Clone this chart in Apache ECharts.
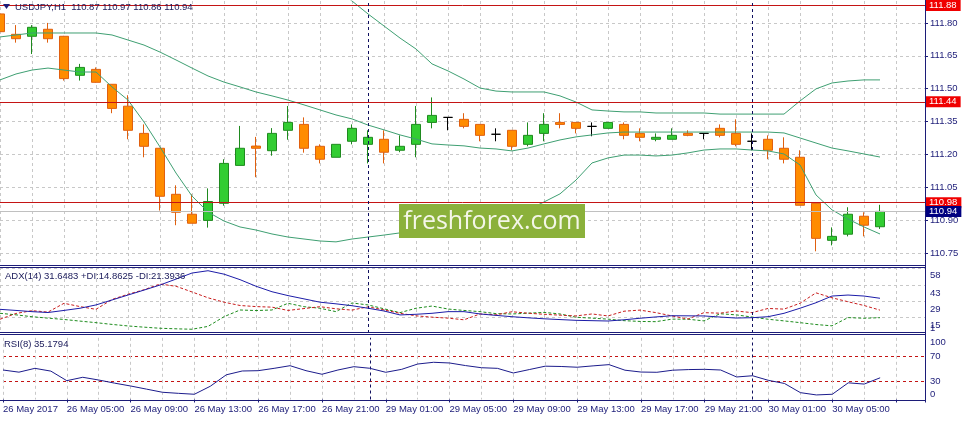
<!DOCTYPE html>
<html><head><meta charset="utf-8">
<script src="https://cdn.jsdelivr.net/npm/echarts@6.0.0/dist/echarts.min.js"></script>
<style>html,body{margin:0;padding:0;background:#fff;}#c{width:967px;height:421px;}</style>
</head><body><div id="c"></div>
<script>
// ---------------- data ----------------
const headerMain = 'USDJPY,H1  110.87 110.97 110.86 110.94';
const headerAdx = 'ADX(14) 31.6483 +DI:14.8625 -DI:21.3936';
const headerRsi = 'RSI(8) 35.1794';
const watermark = 'freshforex.com';

const timeLabels = ['26 May 2017','26 May 05:00','26 May 09:00','26 May 13:00','26 May 17:00','26 May 21:00',
  '29 May 01:00','29 May 05:00','29 May 09:00','29 May 13:00','29 May 17:00','29 May 21:00','30 May 01:00','30 May 05:00'];

const opens  = [111.841,111.748,111.739,111.771,111.739,111.561,111.588,111.520,111.420,111.296,
                111.228,111.018,110.927,110.899,110.977,111.150,111.238,111.217,111.310,111.337,
                111.237,111.187,111.260,111.246,111.269,111.219,111.246,111.346,111.369,111.360,
                111.337,111.292,111.310,111.246,111.296,111.346,111.346,111.328,111.319,111.337,
                111.296,111.269,111.269,111.296,111.296,111.319,111.296,111.260,111.269,111.228,
                111.187,110.977,110.808,110.836,110.918,110.870];
const highs  = [111.850,111.790,111.790,111.800,111.741,111.613,111.597,111.520,111.470,111.337,
                111.230,111.059,111.018,111.045,111.178,111.330,111.280,111.320,111.421,111.369,
                111.246,111.246,111.337,111.310,111.310,111.287,111.421,111.460,111.369,111.388,
                111.337,111.319,111.310,111.346,111.388,111.388,111.346,111.346,111.346,111.346,
                111.319,111.296,111.319,111.310,111.296,111.337,111.360,111.296,111.287,111.278,
                111.219,110.977,110.867,110.959,110.936,110.970];
const lows   = [111.750,111.710,111.658,111.710,111.537,111.537,111.527,111.388,111.269,111.187,
                110.944,110.877,110.886,110.866,110.966,111.150,111.096,111.194,111.267,111.208,
                111.159,111.187,111.246,111.159,111.159,111.210,111.187,111.319,111.310,111.319,
                111.260,111.260,111.219,111.237,111.260,111.319,111.296,111.283,111.319,111.269,
                111.260,111.260,111.269,111.283,111.269,111.278,111.237,111.219,111.178,111.159,
                110.968,110.758,110.785,110.826,110.826,110.860];
const closes = [111.760,111.728,111.780,111.728,111.546,111.597,111.529,111.410,111.310,111.237,
                111.009,110.936,110.886,110.985,111.159,111.228,111.228,111.296,111.346,111.228,
                111.178,111.246,111.319,111.278,111.210,111.237,111.337,111.378,111.369,111.328,
                111.287,111.292,111.237,111.287,111.337,111.337,111.319,111.328,111.346,111.287,
                111.278,111.278,111.287,111.287,111.296,111.287,111.246,111.260,111.219,111.178,
                110.968,110.817,110.826,110.927,110.877,110.940];

const bbUpper = [null,null,null,null,null,null,null,null,null,null,
                 null,null,null,null,null,null,null,null,null,112.060,
                 112.010,111.955,111.900,111.841,111.786,111.731,111.681,111.613,111.581,111.544,
                 111.503,111.489,111.485,111.485,111.485,111.467,111.439,111.403,111.398,111.394,
                 111.394,111.389,111.389,111.389,111.389,111.384,111.384,111.384,111.384,111.384,
                 111.444,111.499,111.526,111.535,111.540,111.540];
const bbMiddle = [111.736,111.745,111.754,111.754,111.754,111.754,111.754,111.745,111.722,111.699,
                  111.667,111.631,111.594,111.558,111.530,111.508,111.485,111.467,111.448,111.426,
                  111.403,111.380,111.362,111.334,111.312,111.289,111.270,111.248,111.243,111.239,
                  111.229,111.225,111.216,111.229,111.248,111.266,111.280,111.289,111.298,111.302,
                  111.302,111.302,111.302,111.302,111.302,111.302,111.302,111.302,111.302,111.298,
                  111.275,111.252,111.229,111.216,111.202,111.188];
const bbLower = [111.540,111.567,111.585,111.594,111.585,111.576,111.576,111.508,111.448,111.348,
                 111.234,111.115,111.010,110.937,110.896,110.869,110.855,110.837,110.823,110.814,
                 110.805,110.801,110.814,110.823,110.832,110.842,110.851,110.860,110.869,110.878,
                 110.892,110.905,110.924,110.947,110.983,111.020,111.083,111.161,111.184,111.197,
                 111.197,111.193,111.197,111.207,111.220,111.225,111.225,111.220,111.216,111.202,
                 111.152,111.015,110.947,110.905,110.869,110.837];

const adxMain = [22.07,21.12,20.07,19.31,21.12,23.02,25.88,30.16,34.44,38.72,
                 43.10,48.24,53.47,55.47,52.52,47.76,42.05,37.30,33.96,31.11,
                 28.25,26.83,25.21,23.02,20.64,17.22,17.79,18.64,20.07,20.07,
                 18.07,16.84,15.69,14.74,13.89,13.22,12.55,12.27,11.98,13.03,
                 14.36,15.50,16.55,16.45,16.36,15.41,14.55,14.84,15.69,18.64,
                 23.02,27.78,33.58,34.44,33.58,31.65];
const plusDI = [18.64,17.31,15.69,14.46,13.31,11.89,10.56,9.03,7.70,6.65,
                5.70,5.23,4.85,7.32,15.69,21.50,21.02,21.50,27.30,24.35,
                23.02,20.07,27.59,25.88,22.55,19.21,23.02,24.92,22.35,21.12,
                20.07,18.36,18.07,18.74,19.41,18.07,15.22,14.46,13.60,12.27,
                11.60,11.41,13.60,13.51,12.08,18.26,17.31,15.41,13.51,12.08,
                10.56,8.94,7.80,14.93,14.36,14.86];
const minusDI = [13.51,18.50,20.93,19.69,27.30,24.45,22.07,30.63,35.11,39.01,
                 43.96,42.05,37.10,32.06,28.25,25.40,24.45,23.97,21.12,22.74,
                 24.35,22.55,21.40,24.26,21.59,18.64,16.45,15.31,14.46,13.03,
                 18.07,17.31,19.98,18.74,17.79,17.03,16.36,18.07,16.36,20.45,
                 21.40,19.21,16.36,13.70,19.21,18.74,20.64,19.21,22.83,22.26,
                 27.30,36.34,32.06,28.64,25.40,21.39];
const rsi = [47.8,44.3,50.5,46.0,30.5,36.0,31.6,26.5,21.9,16.8,
             11.7,10.0,8.5,21.5,40.0,46.2,46.7,50.5,54.8,46.7,
             40.9,47.8,53.2,50.6,44.1,48.9,57.5,60.3,59.2,55.0,
             51.5,50.5,43.0,48.5,54.0,53.5,52.3,54.5,56.5,47.5,
             44.5,44.1,47.5,48.5,48.9,47.8,36.5,38.5,31.0,26.0,
             11.1,7.4,8.5,27.0,25.0,35.18];

const priceTicks = [110.75,110.90,111.05,111.20,111.35,111.50,111.65,111.80];
const adxTicks = [15,29,43,58];
const adxMinLabel = [1.6];
const rsiLevels = [30,70];
const rsiTop = [100];
const rsiBottom = [0];
const levelLines = [111.88,111.44,110.98];
const bidPrice = 110.94;
const daySeparators = [23,47];

// ---------------- chart ----------------
const NAVY = '#1c1c78';
const GRID = '#c8c8c8';
const FONT = 'Liberation Sans, Arial, sans-serif';
const FS = 9.5;
const XMAX = 57.8125; // visible bar span incl. right shift

const chart = echarts.init(document.getElementById('c'), null, {renderer:'canvas'});

function xAxisFor(g){
  return {type:'value', gridIndex:g, min:0, max:XMAX, interval:2,
    axisLine:{show:false,onZero:false}, axisTick:{show:false}, axisLabel:{show:false},
    splitLine:{show:true, lineStyle:{color:GRID, type:[3,3], width:1}}};
}
function yAxisFor(g, min, max, vals, opt){
  const o = {type:'value', gridIndex:g, position:'right', min:min, max:max,
    axisLine:{show:false,onZero:false},
    axisTick:{show:false, customValues:vals},
    axisLabel:{show:true, customValues:vals, margin:5, color:NAVY, fontSize:FS, fontFamily:FONT},
    splitLine:{show:false}};
  if (opt) {
    if (opt.label) Object.assign(o.axisLabel, opt.label);
    if (opt.tick) Object.assign(o.axisTick, opt.tick);
    if (opt.split) o.splitLine = opt.split;
  }
  return o;
}
const sepLine = {silent:true, symbol:'none', label:{show:false},
  lineStyle:{color:'#101060', type:[3,3], width:1},
  data: daySeparators.map(v => ({xAxis:v}))};

const candleData = opens.map((o,i)=>[i,o,closes[i],lows[i],highs[i]]);
const pair = arr => arr.map((v,i)=>[i,v]);

const levelData = levelLines.map(v => ({yAxis:v,
  lineStyle:{color:'#c41414', type:'solid', width:1},
  label:{show:true, position:'end', distance:1, formatter:p=>p.value.toFixed(2),
    color:'#fff', backgroundColor:'#f00000', padding:[1,4,0,3], fontSize:FS, fontFamily:FONT}}));
levelData.push({yAxis:bidPrice,
  lineStyle:{color:'#c0c0c0', type:'solid', width:1},
  label:{show:true, position:'end', distance:1, formatter:p=>p.value.toFixed(2),
    color:'#fff', backgroundColor:'#000080', padding:[1,4,0,3], fontSize:FS, fontFamily:FONT}});
daySeparators.forEach(v => levelData.push({xAxis:v, lineStyle:{color:'#101060', type:[3,3], width:1}, label:{show:false}}));

const bandStyle = {type:'line', xAxisIndex:0, yAxisIndex:0, showSymbol:false, symbol:'none',
  lineStyle:{color:'#3f9f72', width:1}, z:4, clip:true, silent:true};

const option = {
  animation:false,
  backgroundColor:'#ffffff',
  grid:[
    {left:0, top:1, width:925, height:263},
    {left:0, top:267, width:925, height:66},
    {left:0, top:337.8, width:925, height:61.7}
  ],
  xAxis:[
    xAxisFor(0), xAxisFor(1), xAxisFor(2),
    {type:'value', gridIndex:2, position:'bottom', min:0, max:XMAX, interval:4,
     axisLine:{show:false,onZero:false},
     axisTick:{show:true, length:3, lineStyle:{color:NAVY}},
     axisLabel:{show:true, align:'left', margin:5, color:NAVY, fontSize:FS, fontFamily:FONT,
       formatter: v => (Number.isInteger(v) && v % 4 === 0 && v/4 < timeLabels.length) ? timeLabels[v/4] : ''},
     splitLine:{show:false}}
  ],
  yAxis:[
    yAxisFor(0, 110.70, 111.90, priceTicks, {
      label:{formatter: v => Number(v).toFixed(2)},
      tick:{show:true, length:3, lineStyle:{color:NAVY}},
      split:{show:true, lineStyle:{color:GRID, type:[3,3], width:1}}}),
    yAxisFor(1, 1.6, 58.7, adxTicks, {
      label:{verticalAlign:'top', padding:[3,0,0,0]},
      split:{show:true, lineStyle:{color:GRID, type:[3,3], width:1}}}),
    yAxisFor(1, 1.6, 58.7, adxMinLabel, {label:{verticalAlign:'bottom', formatter: v => String(Math.floor(v))}}),
    yAxisFor(2, 0, 100, rsiLevels, {
      split:{show:true, lineStyle:{color:'#c41414', type:[3,3], width:1}}}),
    yAxisFor(2, 0, 100, rsiTop, {label:{verticalAlign:'top'}}),
    yAxisFor(2, 0, 100, rsiBottom, {label:{verticalAlign:'bottom'}})
  ],
  series:[
    {type:'candlestick', name:'USDJPY', xAxisIndex:0, yAxisIndex:0, data:candleData,
     encode:{x:0, y:[1,2,3,4]}, barWidth:9, z:3, silent:true,
     itemStyle:{color:'#32cd32', color0:'#ff8c00', borderColor:'#1f8a1f', borderColor0:'#e0600f',
       borderColorDoji:'#000000', borderWidth:1},
     markLine:{silent:true, symbol:'none', animation:false, data:levelData}},
    Object.assign({}, bandStyle, {name:'BB upper', data:pair(bbUpper)}),
    Object.assign({}, bandStyle, {name:'BB middle', data:pair(bbMiddle)}),
    Object.assign({}, bandStyle, {name:'BB lower', data:pair(bbLower)}),
    {type:'line', name:'ADX', xAxisIndex:1, yAxisIndex:1, data:pair(adxMain), showSymbol:false, symbol:'none',
     lineStyle:{color:'#1c1ca8', width:1}, z:5, silent:true, markLine:sepLine},
    {type:'line', name:'+DI', xAxisIndex:1, yAxisIndex:1, data:pair(plusDI), showSymbol:false, symbol:'none',
     lineStyle:{color:'#1e8c1e', width:1, type:[3,2]}, z:4, silent:true},
    {type:'line', name:'-DI', xAxisIndex:1, yAxisIndex:1, data:pair(minusDI), showSymbol:false, symbol:'none',
     lineStyle:{color:'#c81e1e', width:1, type:[3,2]}, z:4, silent:true},
    {type:'line', name:'RSI', xAxisIndex:2, yAxisIndex:3, data:pair(rsi), showSymbol:false, symbol:'none',
     lineStyle:{color:'#1c1c8c', width:1}, z:5, silent:true, markLine:sepLine}
  ],
  graphic:[
    {type:'line', z:100, shape:{x1:0,y1:265.5,x2:926,y2:265.5}, style:{stroke:NAVY, lineWidth:1}},
    {type:'line', z:100, shape:{x1:0,y1:267.5,x2:926,y2:267.5}, style:{stroke:NAVY, lineWidth:1}},
    {type:'line', z:100, shape:{x1:0,y1:332.5,x2:926,y2:332.5}, style:{stroke:NAVY, lineWidth:1}},
    {type:'line', z:100, shape:{x1:0,y1:334.5,x2:926,y2:334.5}, style:{stroke:NAVY, lineWidth:1}},
    {type:'line', z:100, shape:{x1:0,y1:400.5,x2:926,y2:400.5}, style:{stroke:NAVY, lineWidth:1}},
    {type:'line', z:100, shape:{x1:925.5,y1:0,x2:925.5,y2:401}, style:{stroke:NAVY, lineWidth:1}},
    {type:'polygon', z:100, shape:{points:[[3,4],[10,4],[6.5,9]]}, style:{fill:NAVY}},
    {type:'text', z:100, x:15, y:7.5, style:{text:headerMain, fill:'#1a1a5a', font:FS+'px '+FONT, verticalAlign:'middle', align:'left'}},
    {type:'text', z:100, x:5, y:276, style:{text:headerAdx, fill:'#1a1a5a', font:FS+'px '+FONT, verticalAlign:'middle', align:'left'}},
    {type:'text', z:100, x:4, y:344.5, style:{text:headerRsi, fill:'#1a1a5a', font:FS+'px '+FONT, verticalAlign:'middle', align:'left'}},
    {type:'rect', z:110, shape:{x:399, y:204, width:186, height:34}, style:{fill:'#8bb13b'}},
    {type:'text', z:111, x:492, y:221.5, style:{text:watermark, fill:'#f4f6e8', font:'25px "Open Sans", "DejaVu Sans", sans-serif', verticalAlign:'middle', align:'center'}}
  ]
};
chart.setOption(option);
</script>
</body></html>
